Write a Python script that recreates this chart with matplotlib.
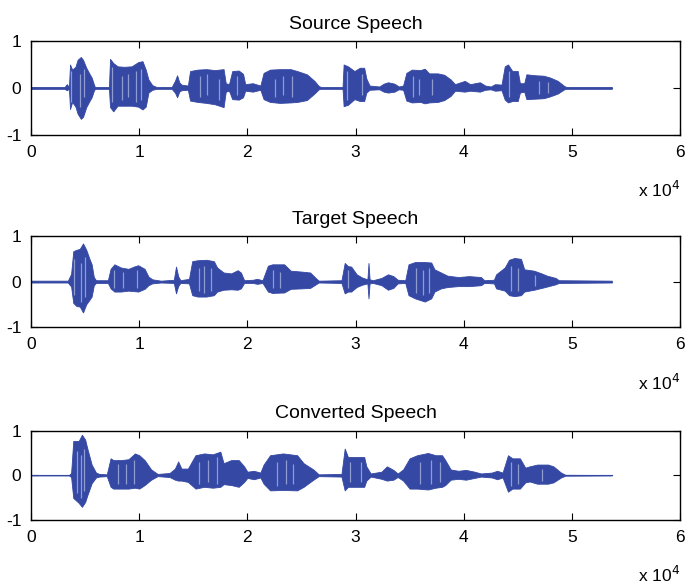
import numpy as np
import matplotlib
matplotlib.use('Agg')
import matplotlib.pyplot as plt

plt.rcParams['font.family'] = ['Liberation Sans', 'DejaVu Sans']
plt.rcParams['axes.unicode_minus'] = False

# 语音波形包络 (横轴单位: x 10^4 采样点)
# -------------------------------
# source speech
# -------------------------------
src_t = [0.00, 0.31, 0.33, 0.35, 0.36, 0.38, 0.41, 0.43, 0.46, 0.48, 0.51, 0.54, 0.56, 0.58, 0.59,
         0.72, 0.73, 0.76, 0.80, 0.86, 0.93, 0.99, 1.03, 1.06, 1.085, 1.12, 1.16,
         1.30, 1.33, 1.35, 1.37, 1.39, 1.45, 1.47, 1.54, 1.62, 1.70, 1.78, 1.80, 1.83,
         1.86, 1.92, 1.96, 1.98, 2.05, 2.12, 2.15, 2.21, 2.30, 2.40, 2.46, 2.55, 2.62, 2.66, 2.68,
         2.88, 2.89, 2.93, 2.99, 3.04, 3.08, 3.10, 3.13, 3.22, 3.26, 3.30, 3.36, 3.40, 3.44,
         3.47, 3.52, 3.60, 3.64, 3.68, 3.76, 3.82, 3.88, 3.92, 4.01, 4.06, 4.15, 4.20, 4.25,
         4.29, 4.35, 4.38, 4.41, 4.45, 4.50, 4.52, 4.56, 4.58, 4.66, 4.74, 4.80, 4.87, 4.93, 4.95, 5.37]
src_hi = [.02, .02, .08, .02, .50, .39, .45, .60, .66, .60, .43, .30, .22, .08, .02,
          .02, .62, .53, .46, .45, .46, .55, .57, .39, .18, .06, .02,
          .02, .15, .27, .12, .07, .05, .36, .39, .40, .38, .40, .10, .08,
          .36, .37, .30, .08, .10, .05, .32, .39, .40, .40, .36, .29, .15, .04, .02,
          .02, .50, .46, .36, .43, .43, .20, .05, .03, .09, .12, .09, .03, .05,
          .32, .39, .38, .41, .31, .31, .28, .18, .08, .15, .08, .12, .05, .03,
          .08, .07, .46, .50, .36, .36, .10, .10, .29, .27, .26, .22, .15, .04, .02, .02]
src_lo = [-.02, -.02, -.05, -.02, -.45, -.30, -.40, -.55, -.66, -.62, -.41, -.28, -.20, -.06, -.02,
          -.02, -.41, -.50, -.38, -.38, -.38, -.40, -.46, -.40, -.10, -.04, -.02,
          -.02, -.10, -.20, -.08, -.05, -.04, -.27, -.30, -.32, -.35, -.41, -.08, -.06,
          -.24, -.25, -.20, -.06, -.08, -.04, -.24, -.30, -.32, -.31, -.30, -.26, -.12, -.03, -.02,
          -.02, -.39, -.36, -.24, -.28, -.28, -.10, -.04, -.03, -.08, -.10, -.08, -.03, -.04,
          -.27, -.31, -.30, -.33, -.31, -.30, -.26, -.17, -.06, -.08, -.06, -.08, -.04, -.03,
          -.06, -.05, -.25, -.31, -.28, -.28, -.10, -.08, -.24, -.23, -.22, -.18, -.12, -.03, -.02, -.02]
# 波形中的浅色条纹 (位置, 上端, 下端)
src_streak_t = [0.37, 0.45, 0.49, 0.75, 0.84, 0.90, 0.97, 1.02, 1.56, 1.63, 1.74, 1.90,
                2.26, 2.33, 2.41, 2.92, 3.06, 3.53, 3.59, 3.71, 4.42, 4.70, 4.78]
src_streak_hi = [.35, .30, .40, .45, .25, .30, .35, .40, .25, .30, .20, .25,
                 .20, .25, .25, .35, .30, .25, .20, .20, .35, .15, .12]
src_streak_lo = [-.30, -.40, -.20, -.30, -.25, -.20, -.30, -.25, -.20, -.15, -.25, -.15,
                 -.20, -.15, -.20, -.25, -.15, -.20, -.15, -.15, -.20, -.12, -.10]

# -------------------------------
# target speech
# -------------------------------
tgt_t = [0.00, 0.34, 0.37, 0.39, 0.42, 0.45, 0.48, 0.51, 0.54, 0.56, 0.58, 0.60,
         0.71, 0.735, 0.77, 0.83, 0.90, 0.95, 0.99, 1.05, 1.085, 1.12, 1.20,
         1.32, 1.34, 1.36, 1.38, 1.46, 1.49, 1.54, 1.62, 1.69, 1.72, 1.78, 1.85, 1.91, 1.94, 1.97,
         2.05, 2.09, 2.14, 2.19, 2.23, 2.34, 2.40, 2.50, 2.58, 2.64, 2.66,
         2.87, 2.90, 2.93, 2.96, 3.01, 3.06, 3.11, 3.12, 3.13, 3.16, 3.24, 3.30, 3.35, 3.39,
         3.46, 3.49, 3.55, 3.64, 3.70, 3.73, 3.79, 3.85, 3.95, 4.05, 4.16, 4.19,
         4.28, 4.30, 4.38, 4.42, 4.47, 4.53, 4.56, 4.65, 4.72, 4.77, 4.85, 4.88, 5.37]
tgt_hi = [.02, .02, .17, .67, .70, .72, .84, .70, .50, .38, .10, .03,
          .03, .28, .38, .31, .28, .33, .36, .28, .11, .05, .02,
          .04, .33, .12, .03, .06, .45, .47, .48, .45, .31, .20, .18, .25, .20, .03,
          .04, .06, .03, .35, .38, .38, .24, .22, .20, .06, .02,
          .03, .41, .34, .33, .16, .09, .05, .41, .05, .03, .08, .16, .12, .04,
          .03, .38, .43, .43, .42, .27, .20, .13, .10, .12, .10, .03,
          .04, .16, .31, .48, .52, .50, .27, .24, .18, .13, .08, .03, .02]
tgt_lo = [-.02, -.02, -.11, -.47, -.54, -.55, -.68, -.50, -.40, -.33, -.08, -.03,
          -.03, -.15, -.22, -.22, -.20, -.21, -.22, -.16, -.08, -.04, -.02,
          -.03, -.26, -.10, -.03, -.04, -.30, -.33, -.33, -.30, -.22, -.18, -.17, -.18, -.15, -.03,
          -.03, -.05, -.03, -.22, -.25, -.24, -.16, -.15, -.14, -.05, -.02,
          -.03, -.26, -.22, -.22, -.12, -.07, -.04, -.37, -.04, -.03, -.08, -.18, -.14, -.04,
          -.03, -.30, -.37, -.44, -.37, -.22, -.15, -.12, -.10, -.10, -.08, -.03,
          -.04, -.15, -.20, -.30, -.32, -.30, -.22, -.18, -.14, -.11, -.06, -.03, -.02]
tgt_streak_t = [0.40, 0.46, 0.50, 0.77, 0.85, 0.98, 1.55, 1.60, 1.66, 2.24, 2.30, 2.93,
                3.56, 3.62, 3.68, 4.44, 4.50, 4.66]
tgt_streak_hi = [.50, .40, .55, .25, .20, .25, .30, .35, .30, .25, .20, .25,
                 .30, .25, .30, .35, .30, .15]
tgt_streak_lo = [-.30, -.45, -.35, -.15, -.15, -.15, -.20, -.25, -.20, -.15, -.15, -.15,
                 -.25, -.30, -.25, -.20, -.20, -.10]

# -------------------------------
# converted speech
# -------------------------------
cnv_t = [0.00, 0.35, 0.37, 0.39, 0.44, 0.47, 0.50, 0.52, 0.56, 0.60, 0.63,
         0.70, 0.735, 0.76, 0.83, 0.90, 0.96, 1.00, 1.05, 1.11, 1.17,
         1.28, 1.33, 1.36, 1.39, 1.45, 1.52, 1.60, 1.68, 1.75, 1.78, 1.85, 1.92, 1.97, 2.00,
         2.06, 2.12, 2.15, 2.21, 2.33, 2.46, 2.52, 2.61, 2.66,
         2.87, 2.90, 2.93, 3.02, 3.08, 3.10, 3.14, 3.24, 3.29, 3.35, 3.39,
         3.44, 3.50, 3.57, 3.67, 3.74, 3.80, 3.83, 3.88, 3.95, 4.02, 4.10, 4.16,
         4.26, 4.31, 4.36, 4.41, 4.45, 4.52, 4.57, 4.61, 4.68, 4.78, 4.83, 4.90, 4.94, 5.37]
cnv_hi = [.005, .005, .05, .77, .77, .91, .80, .60, .24, .06, .03,
          .02, .38, .34, .34, .36, .49, .45, .34, .13, .03,
          .05, .15, .31, .15, .15, .45, .49, .47, .53, .27, .34, .34, .20, .08,
          .10, .06, .24, .45, .49, .45, .27, .13, .02,
          .03, .60, .41, .41, .41, .20, .04, .08, .20, .12, .04,
          .13, .38, .45, .50, .45, .45, .34, .13, .10, .12, .08, .04,
          .06, .10, .06, .45, .38, .38, .17, .20, .24, .24, .20, .06, .01, .005]
cnv_lo = [-.005, -.005, -.04, -.51, -.62, -.71, -.60, -.45, -.18, -.05, -.03,
          -.02, -.26, -.30, -.30, -.30, -.28, -.30, -.22, -.10, -.02,
          -.04, -.10, -.12, -.12, -.15, -.30, -.26, -.28, -.26, -.20, -.22, -.26, -.15, -.06,
          -.09, -.05, -.19, -.34, -.33, -.34, -.26, -.10, -.02,
          -.03, -.34, -.26, -.26, -.26, -.12, -.03, -.08, -.12, -.10, -.04,
          -.12, -.30, -.30, -.32, -.28, -.26, -.22, -.10, -.08, -.10, -.06, -.03,
          -.05, -.09, -.05, -.37, -.30, -.30, -.16, -.14, -.19, -.19, -.16, -.05, -.01, -.005]
cnv_streak_t = [0.42, 0.46, 0.49, 0.80, 0.88, 0.95, 1.55, 1.64, 1.72, 2.27, 2.36, 2.42,
                2.95, 3.05, 3.60, 3.70, 3.78, 4.44, 4.50, 4.72]
cnv_streak_hi = [.55, .45, .60, .25, .25, .35, .30, .35, .40, .30, .35, .25,
                 .30, .30, .30, .35, .30, .30, .25, .15]
cnv_streak_lo = [-.40, -.50, -.35, -.20, -.20, -.20, -.20, -.15, -.20, -.25, -.20, -.20,
                 -.15, -.15, -.20, -.20, -.15, -.25, -.20, -.12]

titles = ['Source Speech', 'Target Speech', 'Converted Speech']
series = [(src_t, src_hi, src_lo), (tgt_t, tgt_hi, tgt_lo), (cnv_t, cnv_hi, cnv_lo)]
streaks = [(src_streak_t, src_streak_hi, src_streak_lo),
           (tgt_streak_t, tgt_streak_hi, tgt_streak_lo),
           (cnv_streak_t, cnv_streak_hi, cnv_streak_lo)]

# 画图
color_wave = '#3448a4'
color_streak = '#8e9cd2'
fig = plt.figure(figsize=(6.91, 5.86), dpi=100)
positions = [[0.045, 0.770, 0.939, 0.160],
             [0.045, 0.442, 0.939, 0.155],
             [0.045, 0.113, 0.939, 0.152]]

for pos, title, (t, hi, lo), (st, sh, sl) in zip(positions, titles, series, streaks):
    ax = fig.add_axes(pos)
    ax.fill_between(t, hi, lo, color=color_wave, linewidth=0.6, edgecolor=color_wave)
    ax.plot([t[0], t[-1]], [0, 0], color=color_wave, linewidth=0.8)
    ax.vlines(st, sl, sh, color=color_streak, linewidth=0.9)

    ax.set_xlim(0, 6)
    ax.set_ylim(-1, 1)
    ax.set_xticks(range(7))
    ax.set_yticks([-1, 0, 1])
    ax.tick_params(direction='in', top=True, right=True, length=5, width=0.8,
                   labelsize=12.5, pad=7)
    for s in ax.spines.values():
        s.set_linewidth(1.0)
    ax.set_title(title, fontsize=14, pad=9)
    ax.annotate(r'x 10$^4$', xy=(1, 0), xycoords='axes fraction',
                xytext=(0, -40), textcoords='offset points',
                ha='right', va='center', fontsize=12.5)

fig.savefig('out.png', dpi=100)
